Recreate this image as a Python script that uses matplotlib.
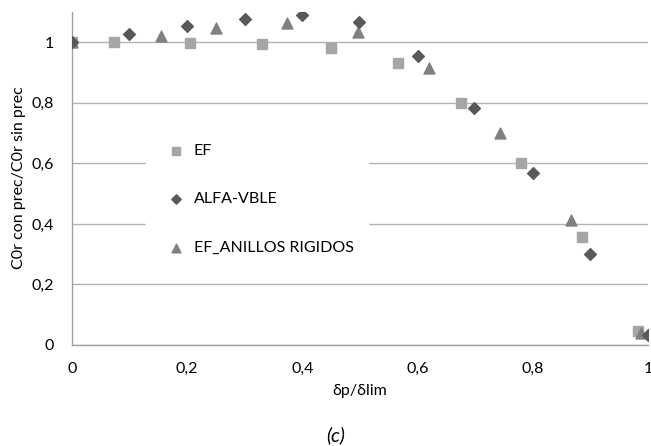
import matplotlib
matplotlib.use('Agg')
import matplotlib.pyplot as plt

# datos
x_ef = [0.0, 0.073, 0.205, 0.33, 0.45, 0.566, 0.675, 0.78, 0.885, 0.983]
y_ef = [1.0, 1.0, 0.998, 0.993, 0.98, 0.93, 0.80, 0.60, 0.357, 0.046]

x_alfa = [0.0, 0.099, 0.2, 0.30, 0.40, 0.498, 0.60, 0.698, 0.80, 0.90, 1.0]
y_alfa = [1.0, 1.026, 1.053, 1.076, 1.089, 1.066, 0.953, 0.783, 0.567, 0.30, 0.033]

x_rig = [0.0, 0.155, 0.25, 0.373, 0.497, 0.62, 0.743, 0.866, 0.988]
y_rig = [1.0, 1.022, 1.046, 1.063, 1.033, 0.914, 0.70, 0.412, 0.038]

xticks = [0, 0.2, 0.4, 0.6, 0.8, 1]
xtick_labels = ['0', '0,2', '0,4', '0,6', '0,8', '1']
yticks = [0, 0.2, 0.4, 0.6, 0.8, 1]
ytick_labels = ['0', '0,2', '0,4', '0,6', '0,8', '1']

plt.rcParams['font.family'] = ['Lato', 'DejaVu Sans']

fig = plt.figure(figsize=(6.51, 4.46), dpi=100)
ax = fig.add_axes([0.1106, 0.2265, 0.8848, 0.7466])

ax.scatter(x_ef, y_ef, marker='s', s=52, color='#a6a6a6', label='EF', zorder=3)
ax.scatter(x_alfa, y_alfa, marker='D', s=36, color='#595959', label='ALFA-VBLE', zorder=4)
ax.scatter(x_rig, y_rig, marker='^', s=62, color='#808080', label='EF_ANILLOS RIGIDOS', zorder=3)

ax.set_xlim(0, 1)
ax.set_ylim(0, 1.1)
ax.set_xticks(xticks)
ax.set_xticklabels(xtick_labels)
ax.set_yticks(yticks)
ax.set_yticklabels(ytick_labels)
ax.tick_params(length=0, labelsize=11.5, colors='black')
ax.tick_params(axis='x', pad=12)
ax.tick_params(axis='y', pad=13)

ax.yaxis.grid(True, color='#b3b3b3', linewidth=1.0)
ax.set_axisbelow(True)
for s in ['top', 'right']:
    ax.spines[s].set_visible(False)
for s in ['left', 'bottom']:
    ax.spines[s].set_color('#a0a0a0')
    ax.spines[s].set_linewidth(1.0)

ax.set_xlabel('δp/δlim', fontsize=11.5, labelpad=6)
fig.text(19 / 651, 1 - 178 / 446, 'C0r con prec/C0r sin prec', fontsize=11.5,
         rotation=90, ha='center', va='center')

leg = ax.legend(loc='upper left', bbox_to_anchor=(0.128, 0.648), frameon=True,
                fancybox=False, edgecolor='white', facecolor='white', framealpha=1,
                fontsize=11.5, labelspacing=2.15, handletextpad=0.1,
                borderpad=0.9, borderaxespad=0, markerscale=0.8)

fig.text(0.516, 0.025, '(c)', fontsize=14, style='italic', ha='center', va='center')

fig.savefig('out.png', dpi=100)
